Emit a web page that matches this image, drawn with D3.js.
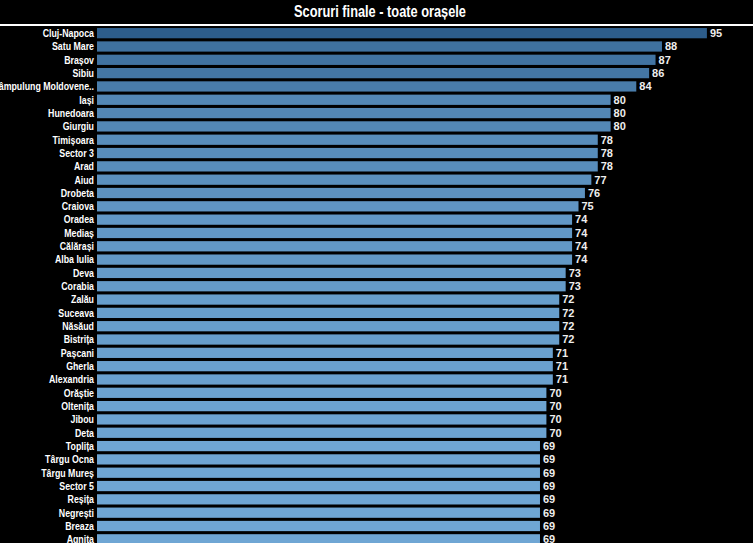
<!DOCTYPE html>
<html>
<head>
<meta charset="utf-8">
<script src="https://cdn.jsdelivr.net/npm/d3@7"></script>
<style>
  html, body { margin: 0; padding: 0; background: #000; overflow: hidden; }
  svg { display: block; }
  .narrow { font-family: 'Liberation Sans Narrow', 'Liberation Sans', Arial, sans-serif; font-stretch: condensed; font-weight: bold; }
</style>
</head>
<body>
<svg id="chart" width="753" height="543"></svg>
<script>
const title = "Scoruri finale - toate orașele";
const cities = ["Cluj-Napoca","Satu Mare","Brașov","Sibiu","Câmpulung Moldovene..","Iași","Hunedoara","Giurgiu","Timișoara","Sector 3","Arad","Aiud","Drobeta","Craiova","Oradea","Mediaș","Călărași","Alba Iulia","Deva","Corabia","Zalău","Suceava","Năsăud","Bistrița","Pașcani","Gherla","Alexandria","Orăștie","Oltenița","Jibou","Deta","Toplița","Târgu Ocna","Târgu Mureș","Sector 5","Reșița","Negrești","Breaza","Agnita"];
const scores = [95,88,87,86,84,80,80,80,78,78,78,77,76,75,74,74,74,74,73,73,72,72,72,72,71,71,71,70,70,70,70,69,69,69,69,69,69,69,69];

const W = 753, H = 543;
const marginLeft = 97, marginRightX = 739;
const plotTop = 26.5, rowStep = 13.32;
const svg = d3.select("#chart");

const x = d3.scaleLinear().domain([0, 100]).range([marginLeft, marginRightX]);
const y = d3.scaleBand().domain(cities).range([plotTop, plotTop + cities.length * rowStep]).paddingInner(0.23).paddingOuter(0.115);
const color = d3.scaleLinear().domain([69, 95]).range(["#6fa6d4", "#2d5d8b"]);

const titleText = svg.append("text")
  .attr("class", "narrow")
  .attr("x", 380).attr("y", 17)
  .attr("text-anchor", "middle")
  .attr("fill", "#fff")
  .attr("font-size", 16)
  .text(title);

svg.append("rect").attr("x", 0).attr("y", 24).attr("width", W).attr("height", 2).attr("fill", "#fff");

const rows = svg.append("g").selectAll("g").data(cities).join("g");

rows.append("rect")
  .attr("x", x(0))
  .attr("y", d => y(d))
  .attr("width", (d, i) => x(scores[i]) - x(0))
  .attr("height", y.bandwidth())
  .attr("fill", (d, i) => color(scores[i]));

const labels = rows.append("text")
  .attr("class", "narrow")
  .attr("x", x(0) - 3)
  .attr("y", d => y(d) + y.bandwidth() / 2)
  .attr("dy", "0.35em")
  .attr("text-anchor", "end")
  .attr("fill", "#fff")
  .attr("font-size", 11)
  .text(d => d);

rows.append("text")
  .attr("x", (d, i) => x(scores[i]) + 3)
  .attr("y", d => y(d) + y.bandwidth() / 2)
  .attr("dy", "0.35em")
  .attr("fill", "#eee")
  .attr("class", "narrow")
  .attr("font-size", 11)
  .text((d, i) => scores[i]);

// If the narrow face was not found, compress to the narrow width (~0.82 of regular).
const probe = svg.append("text").attr("class", "narrow").attr("font-size", 100).text("Cluj-Napoca");
const probeReg = svg.append("text").attr("font-family", "'Liberation Sans', Arial, sans-serif").attr("font-weight", "bold").attr("font-size", 100).text("Cluj-Napoca");
const ratio = probe.node().getComputedTextLength() / probeReg.node().getComputedTextLength();
probe.remove(); probeReg.remove();
if (ratio > 0.9) {
  const s = 0.8;
  titleText.attr("transform", `translate(380,0) scale(${s},1) translate(-380,0)`);
  labels.attr("transform", `translate(${x(0) - 3},0) scale(${s},1) translate(${-(x(0) - 3)},0)`);
}
</script>
</body>
</html>
